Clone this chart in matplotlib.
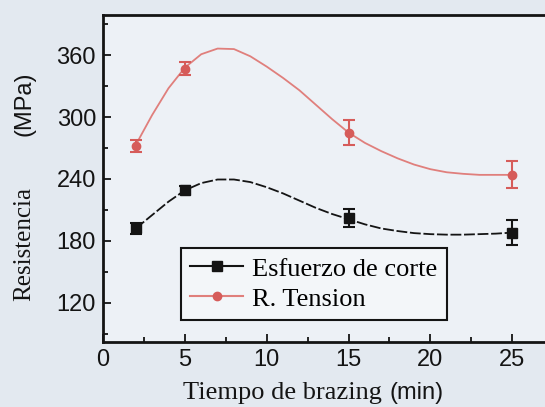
import matplotlib
matplotlib.use("Agg")
import matplotlib.pyplot as plt
import numpy as np

# measured points
t = [2, 5, 15, 25]
corte = [192, 229, 202, 188]
corte_err = [5, 4, 9, 12]
tension = [272, 347, 285, 244]
tension_err = [6, 6, 12, 13]

# fitted curves
t_fit = [2, 3, 4, 5, 6, 7, 8, 9, 10, 11, 12, 13, 14, 15, 16, 17, 18, 19, 20,
         21, 22, 23, 24, 25]
corte_fit = [192, 205, 218, 229, 236, 239.5, 239.5, 237, 232, 226, 219, 212,
             206, 201, 196, 192, 189.5, 187.5, 186.5, 186, 186, 186.5, 187, 188]
tension_fit = [273, 302, 328, 348, 361, 366.5, 366, 359, 349, 338, 326, 312, 298,
               285, 275, 267, 260, 254, 249.5, 246.5, 245, 244, 244, 244]

x_ticks = [0, 5, 10, 15, 20, 25]
y_ticks = [120, 180, 240, 300, 360]

black = "#141414"
red = "#d65c5a"
red_line = "#e07f7c"

plt.rcParams["font.family"] = ["Liberation Sans", "DejaVu Sans"]

fig = plt.figure(figsize=(5.45, 4.07), dpi=100, facecolor="#e3e9f0")
ax = fig.add_axes([0.189, 0.160, 0.811, 0.803])
ax.set_facecolor("#edf1f6")

ax.plot(t_fit, corte_fit, color=black, lw=1.3, ls=(0, (6, 1.5)), zorder=2,
        solid_joinstyle="round")
ax.plot(t_fit, tension_fit, color=red_line, lw=1.3, zorder=2,
        solid_joinstyle="round")

ax.errorbar(t, corte, yerr=corte_err, fmt="s", color=black, ms=7,
            capsize=4, elinewidth=1.5, capthick=1.5, zorder=3)
ax.errorbar(t, tension, yerr=tension_err, fmt="o", color=red, ms=6,
            capsize=4, elinewidth=1.5, capthick=1.5, zorder=3)

# legend handles
h1, = ax.plot([], [], color=black, lw=1.5, marker="s", ms=7)
h2, = ax.plot([], [], color=red_line, lw=1.5, marker="o", ms=6,
              markerfacecolor=red, markeredgecolor=red)
leg = fig.legend([h1, h2], ["Esfuerzo de corte", "R. Tension"],
                 loc="upper left", bbox_to_anchor=(0.332, 0.391),
                 prop={"family": "Liberation Serif", "size": 19},
                 handlelength=2.0, handletextpad=0.35, borderpad=0.35,
                 labelspacing=0.25, fancybox=False, framealpha=1,
                 borderaxespad=0)
leg.get_frame().set_edgecolor(black)
leg.get_frame().set_linewidth(1.5)
leg.get_frame().set_facecolor("#f3f6f9")

ax.set_xlim(0, 27)
ax.set_ylim(82, 399)
ax.set_xticks(x_ticks)
ax.set_yticks(y_ticks)
ax.set_xticks(np.arange(2.5, 27, 5), minor=True)
ax.set_yticks(np.arange(90, 400, 60), minor=True)
ax.tick_params(which="both", direction="in", colors=black, width=1.3,
               labelsize=17, pad=5)
ax.tick_params(which="major", length=6)
ax.tick_params(which="minor", length=3.5)

for s in ["left", "bottom", "top"]:
    ax.spines[s].set_linewidth(2)
    ax.spines[s].set_color(black)
ax.spines["right"].set_visible(False)

# axis titles: serif words, sans units, as in the scan
fig.text(0.70, 0.008, "Tiempo de brazing", family="Liberation Serif",
         fontsize=19, ha="right", va="bottom", color=black)
fig.text(0.714, 0.008, "(min)", fontsize=17, ha="left", va="bottom",
         color=black)
fig.text(0.045, 0.40, "Resistencia", family="Liberation Serif",
         fontsize=18, rotation=90, ha="center", va="center", color=black)
fig.text(0.045, 0.745, "(MPa)", fontsize=17, rotation=90,
         ha="center", va="center", color=black)

fig.savefig("out.png", dpi=100, facecolor=fig.get_facecolor())
